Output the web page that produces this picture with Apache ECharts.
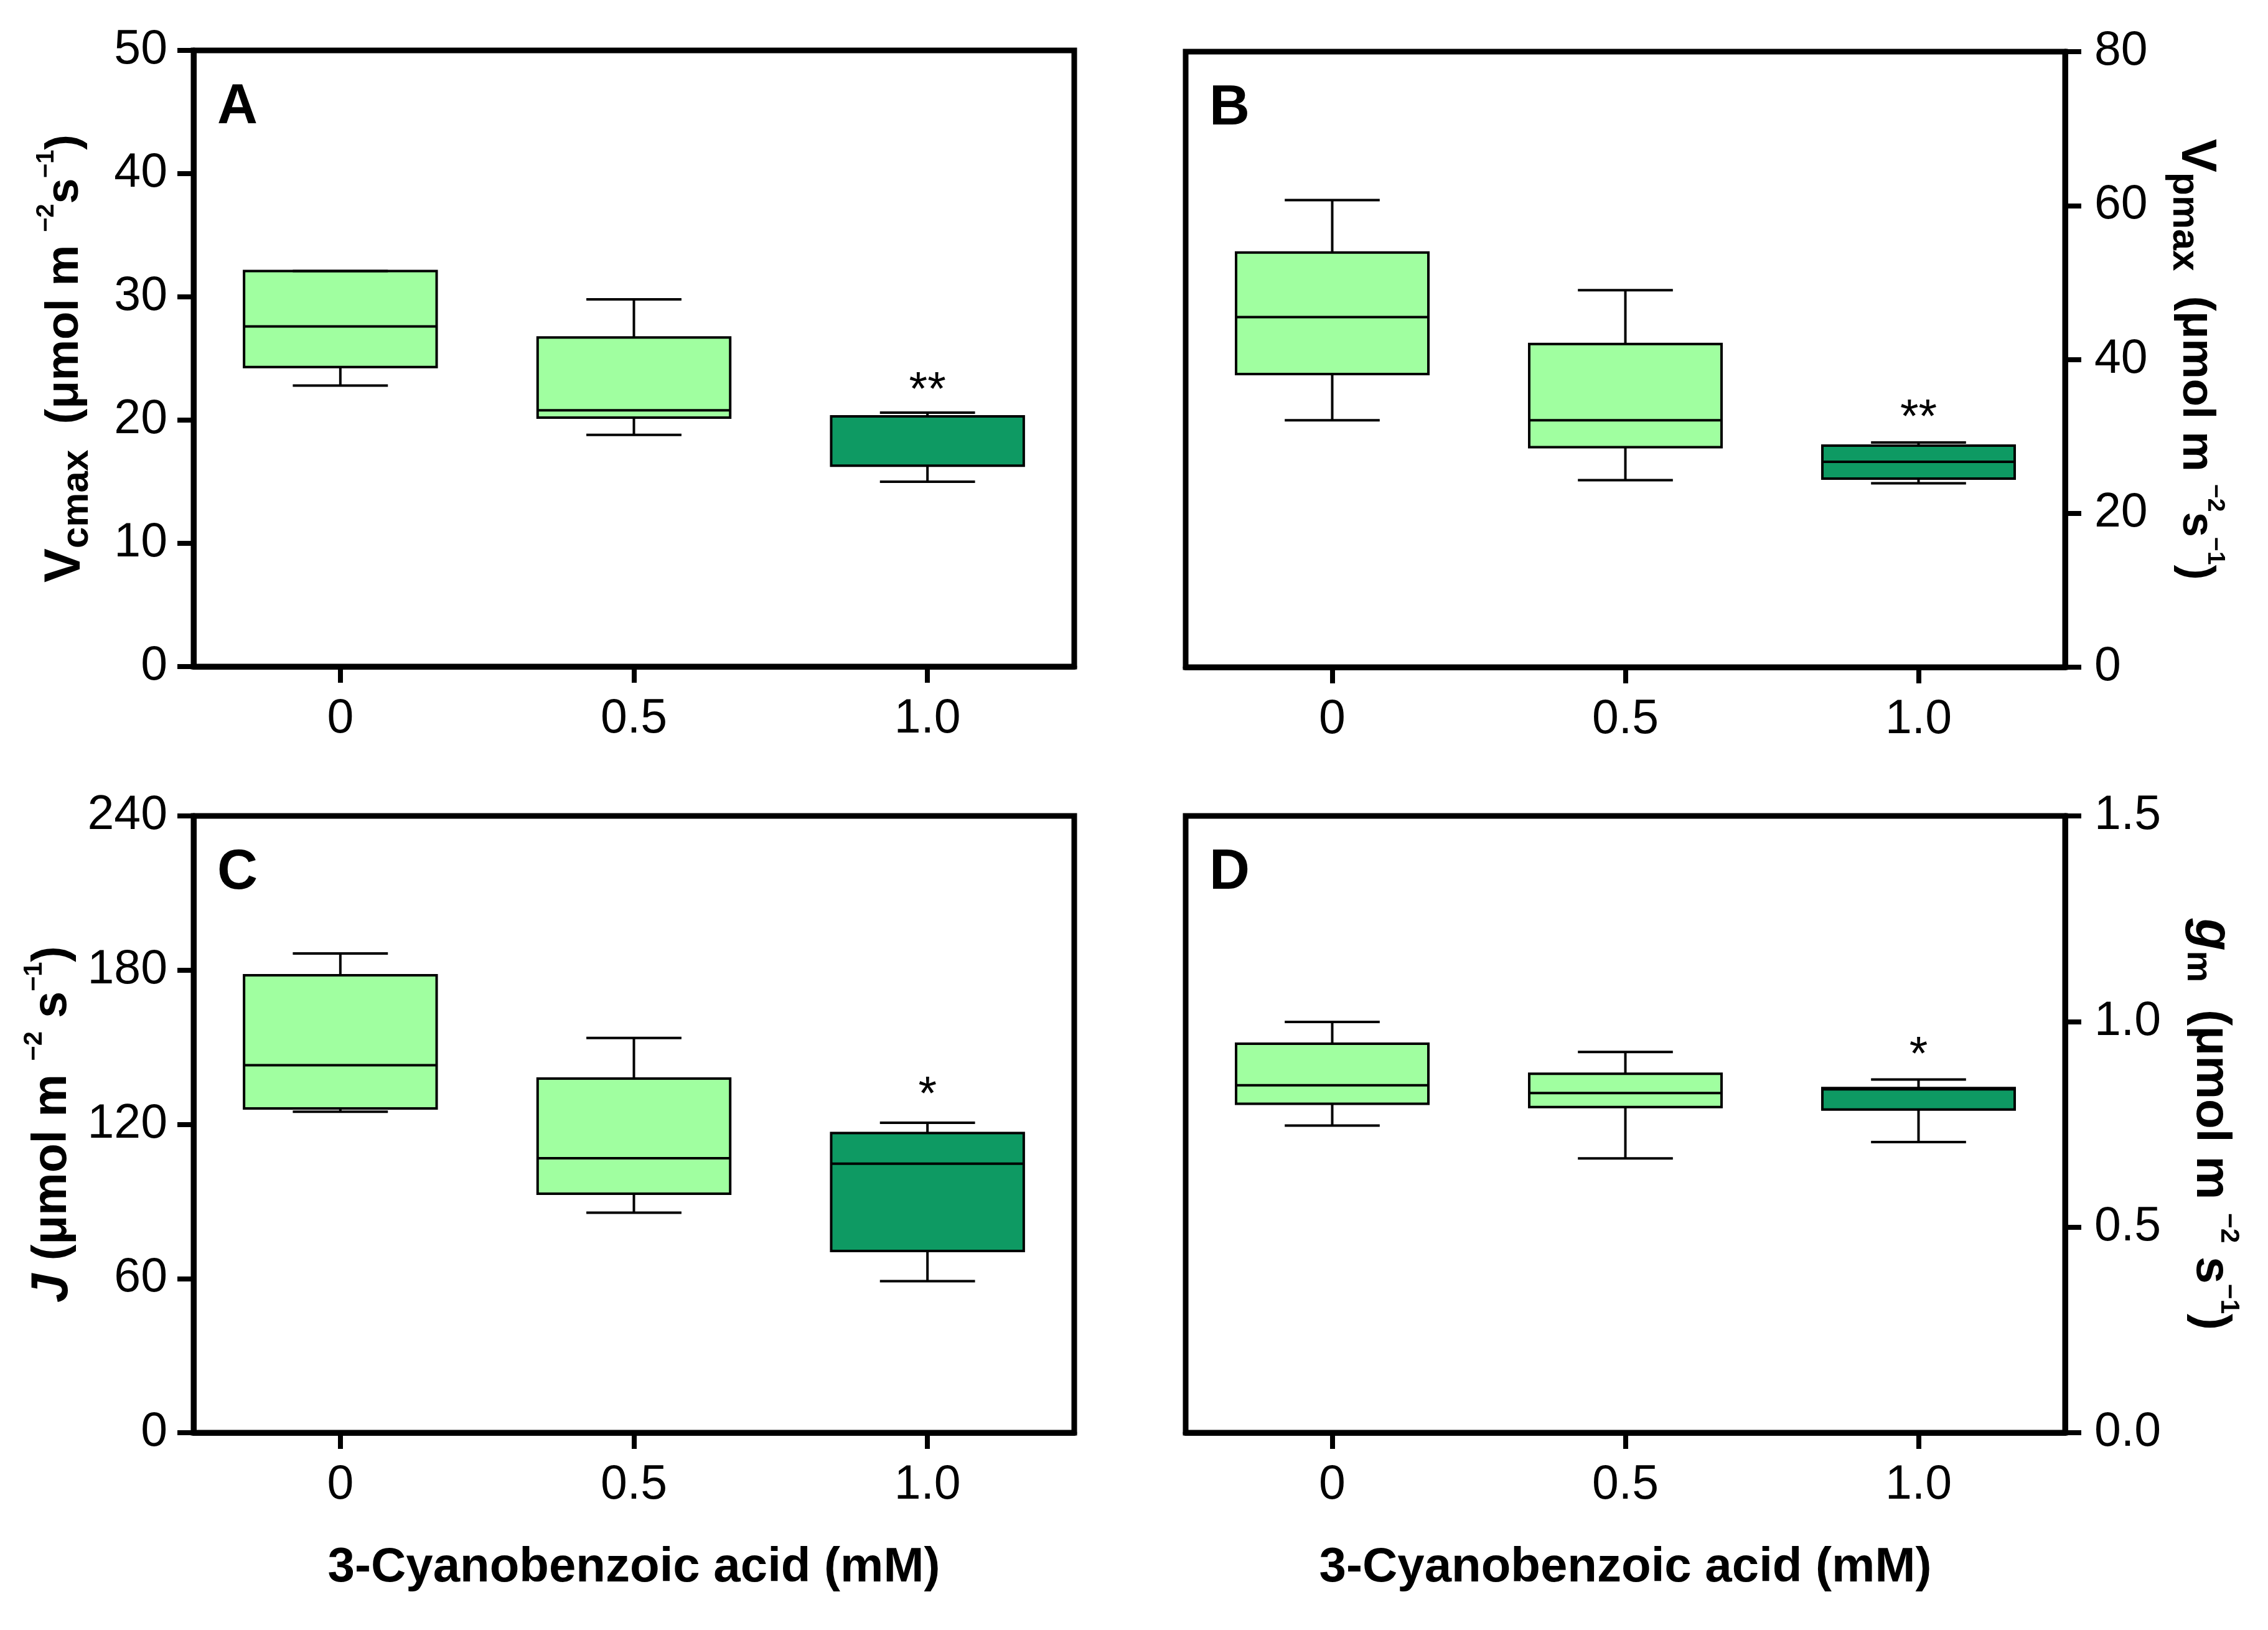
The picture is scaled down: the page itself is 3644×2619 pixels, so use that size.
<!DOCTYPE html>
<html><head><meta charset="utf-8">
<script src="https://cdn.jsdelivr.net/npm/echarts@6/dist/echarts.min.js"></script>
<style>html,body{margin:0;padding:0;background:#fff}#c{width:3644px;height:2619px}</style>
</head><body><div id="c"></div>
<script>
// ---------- data ----------
const categories = ['0', '0.5', '1.0'];
const boxColors = ['#A0FFA0', '#A0FFA0', '#0E9A63'];
// each box: [min, Q1, median, Q3, max]
const vcmax = [[22.8, 24.3, 27.6, 32.1, 32.1], [18.8, 20.2, 20.8, 26.7, 29.8], [15.0, 16.3, 20.3, 20.3, 20.6]];
const vpmax = [[32.1, 38.1, 45.5, 53.9, 60.7], [24.3, 28.6, 32.1, 42.0, 49.0], [23.9, 24.5, 26.7, 28.8, 29.2]];
const jRate = [[124.9, 126.2, 143.0, 178.0, 186.5], [85.6, 93.0, 106.8, 137.8, 153.6], [59.0, 70.7, 104.7, 116.6, 120.6]];
const gm = [[0.747, 0.800, 0.845, 0.946, 0.999], [0.667, 0.792, 0.826, 0.873, 0.926], [0.707, 0.786, 0.835, 0.838, 0.859]];
// y-axis tick values
const vcmaxTicks = [0, 10, 20, 30, 40, 50];
const vpmaxTicks = [0, 20, 40, 60, 80];
const jTicks = [0, 60, 120, 180, 240];
const gmTicks = [0, 0.5, 1.0, 1.5];
// significance marks: [category index, value position]
const sigA = [[2, 22.3]], sigAText = ['**'];
const sigB = [[2, 32.3]], sigBText = ['**'];
const sigC = [[2, 131.0]], sigCText = ['*'];
const sigD = [[2, 0.915]], sigDText = ['*'];
const panelLetters = ['A', 'B', 'C', 'D'];
const xTitle = '3-Cyanobenzoic acid (mM)';

// ---------- styling / layout ----------
const F = "'Liberation Sans', Arial, Helvetica, sans-serif";
const grids = [
  { left: 311, top: 81, width: 1415, height: 990 },
  { left: 1905, top: 83, width: 1413, height: 989 },
  { left: 311, top: 1311, width: 1415, height: 991 },
  { left: 1905, top: 1311, width: 1413, height: 991 }
];
function richFor(s) {
  return {
    r: { fontSize: 74 * s, fontWeight: 'bold', fontFamily: F, lineHeight: 100, color: '#000' },
    v: { fontSize: 82 * s, fontWeight: 'bold', fontFamily: F, lineHeight: 100, color: '#000' },
    sub: { fontSize: 62 * s, fontWeight: 'bold', fontFamily: F, lineHeight: 66, verticalAlign: 'bottom', color: '#000' },
    sup: { fontSize: 40 * s, fontWeight: 'bold', fontFamily: F, lineHeight: 56, verticalAlign: 'top', color: '#000' },
    i: { fontSize: 80 * s, fontWeight: 'bold', fontStyle: 'italic', fontFamily: F, lineHeight: 100, color: '#000' },
    gs: { fontSize: 54 * s, fontWeight: 'bold', fontFamily: F, lineHeight: 62, verticalAlign: 'bottom', color: '#000' }
  };
}
const panels = [
  { data: vcmax, ticks: vcmaxTicks, fmt: v => String(v), side: 'left', gap: 156, rot: null, rs: 1,
    name: '{v|V}{sub|cmax}{r|  (μmol m }{sup|−2}{r|s}{sup|−1}{r|)}', sig: sigA, sigText: sigAText, xName: '' },
  { data: vpmax, ticks: vpmaxTicks, fmt: v => String(v), side: 'right', gap: 160, rot: -90, rs: 0.98,
    name: '{v|V}{sub|pmax}{r|  (μmol m }{sup|−2}{r|s}{sup|−1}{r|)}', sig: sigB, sigText: sigBText, xName: '' },
  { data: jRate, ticks: jTicks, fmt: v => String(v), side: 'left', gap: 176, rot: null, rs: 1.04,
    name: '{i|J}{r| (μmol m }{sup|−2}{r| s}{sup|−1}{r|)}', sig: sigC, sigText: sigCText, xName: xTitle },
  { data: gm, ticks: gmTicks, fmt: v => v.toFixed(1), side: 'right', gap: 184, rot: -90, rs: 1.06,
    name: '{i|g}{gs|m}{r|  (μmol m }{sup|−2}{r| s}{sup|−1}{r|)}', sig: sigD, sigText: sigDText, xName: xTitle }
];

function boxRender(params, api) {
  const i = api.value(0);
  const band = api.size([1, 0])[0];
  const half = band * 0.328, cap = band * 0.162;
  const cx = api.coord([i, 0])[0];
  const y = k => api.coord([i, api.value(k)])[1];
  const yMin = y(1), yQ1 = y(2), yMed = y(3), yQ3 = y(4), yMax = y(5);
  const ls = { stroke: '#000', lineWidth: 4 };
  return { type: 'group', children: [
    { type: 'line', shape: { x1: cx, y1: yQ3, x2: cx, y2: yMax }, style: ls },
    { type: 'line', shape: { x1: cx, y1: yQ1, x2: cx, y2: yMin }, style: ls },
    { type: 'rect', shape: { x: cx - half, y: yQ3, width: 2 * half, height: yQ1 - yQ3 },
      style: { fill: boxColors[i], stroke: '#000', lineWidth: 4 } },
    { type: 'line', shape: { x1: cx - half, y1: yMed, x2: cx + half, y2: yMed }, style: ls },
    { type: 'line', shape: { x1: cx - cap, y1: yMax, x2: cx + cap, y2: yMax }, style: ls },
    { type: 'line', shape: { x1: cx - cap, y1: yMin, x2: cx + cap, y2: yMin }, style: ls }
  ] };
}
function makeSigRender(texts) {
  return function (params, api) {
    const p = api.coord([api.value(0), api.value(1)]);
    return { type: 'text', x: p[0], y: p[1],
      style: { text: texts[params.dataIndex], fontSize: 76, fontFamily: F, fill: '#000', align: 'center', verticalAlign: 'middle' } };
  };
}

const option = {
  backgroundColor: '#fff',
  animation: false,
  grid: [], xAxis: [], yAxis: [], series: [],
  graphic: []
};
panels.forEach((p, k) => {
  option.grid.push(Object.assign({ show: true, borderColor: '#000', borderWidth: 9, backgroundColor: 'transparent', outerBoundsMode: 'none' }, grids[k]));
  option.xAxis.push({
    type: 'category', gridIndex: k, data: categories, boundaryGap: true,
    axisLine: { show: true, lineStyle: { color: '#000', width: 9 } },
    axisTick: { show: true, alignWithLabel: true, length: 26, lineStyle: { color: '#000', width: 8 } },
    axisLabel: { margin: 46, fontSize: 77, fontFamily: F, color: '#000' },
    splitLine: { show: false },
    name: p.xName, nameLocation: 'middle', nameGap: 172, nameMoveOverlap: false,
    nameTextStyle: { fontSize: 78, fontWeight: 'bold', fontFamily: F, color: '#000', lineHeight: 90 }
  });
  const t = p.ticks;
  option.yAxis.push({
    type: 'value', gridIndex: k, position: p.side,
    min: t[0], max: t[t.length - 1], interval: t[1] - t[0],
    axisLine: { show: true, lineStyle: { color: '#000', width: 9 } },
    axisTick: { show: true, length: 26, lineStyle: { color: '#000', width: 8 } },
    axisLabel: { margin: p.side === 'left' ? 42 : 47, fontSize: 77, fontFamily: F, color: '#000', formatter: p.fmt },
    splitLine: { show: false },
    name: p.name, nameLocation: 'middle', nameGap: p.gap, nameRotate: p.rot, nameMoveOverlap: false,
    nameTextStyle: { rich: richFor(p.rs), lineHeight: 100 }
  });
  option.series.push({
    type: 'custom', xAxisIndex: k, yAxisIndex: k, renderItem: boxRender,
    encode: { x: 0, y: [1, 2, 3, 4, 5] },
    data: p.data.map((d, i) => [i].concat(d)), z: 3
  });
  option.series.push({
    type: 'custom', xAxisIndex: k, yAxisIndex: k, renderItem: makeSigRender(p.sigText),
    encode: { x: 0, y: 1 }, data: p.sig, z: 4
  });
  option.graphic.push({
    type: 'text', x: grids[k].left + 38, y: grids[k].top + 92,
    style: { text: panelLetters[k], fontSize: 90, fontWeight: 'bold', fontFamily: F, fill: '#000', align: 'left', verticalAlign: 'middle' }
  });
});

const chart = echarts.init(document.getElementById('c'), null, { renderer: 'canvas', width: 3644, height: 2619 });
chart.setOption(option);
</script>
</body></html>
